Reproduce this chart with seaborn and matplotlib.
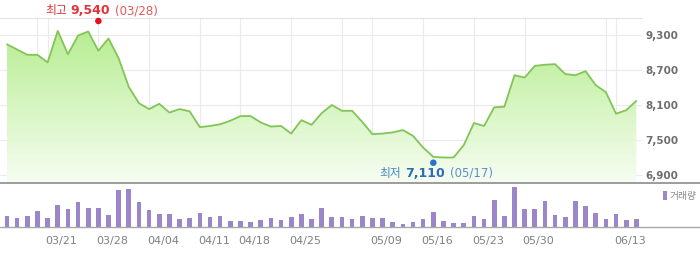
import numpy as np
import pandas as pd
import matplotlib
matplotlib.use('Agg')
import matplotlib.pyplot as plt
import seaborn as sns
from matplotlib.offsetbox import TextArea, HPacker, AnnotationBbox
from matplotlib.transforms import ScaledTranslation
from matplotlib.lines import Line2D
from matplotlib.colors import LinearSegmentedColormap

# ---------------- data ----------------
dates = ['03/15', '03/16', '03/17', '03/18', '03/21', '03/22', '03/23', '03/24', '03/25',
         '03/28', '03/29', '03/30', '03/31', '04/01', '04/04', '04/05', '04/06', '04/07',
         '04/08', '04/11', '04/12', '04/14', '04/15', '04/18', '04/19', '04/20', '04/21',
         '04/22', '04/25', '04/26', '04/27', '04/28', '04/29', '05/02', '05/03', '05/04',
         '05/09', '05/10', '05/11', '05/12', '05/13', '05/16', '05/17', '05/18', '05/19',
         '05/20', '05/23', '05/24', '05/25', '05/26', '05/27', '05/30', '05/31', '06/01',
         '06/02', '06/03', '06/07', '06/08', '06/09', '06/10', '06/13', '06/14', '06/15']
close = [9140, 9050, 8960, 8960, 8830, 9370, 8970, 9290, 9360, 9030,
         9240, 8900, 8410, 8130, 8030, 8120, 7970, 8030, 7990, 7720,
         7740, 7770, 7830, 7910, 7910, 7800, 7730, 7740, 7610, 7840,
         7760, 7960, 8100, 8000, 8000, 7810, 7600, 7610, 7630, 7670,
         7570, 7370, 7210, 7200, 7200, 7410, 7790, 7740, 8060, 8070,
         8610, 8570, 8770, 8790, 8800, 8630, 8610, 8680, 8440, 8320,
         7950, 8010, 8170]
volume = [320, 270, 330, 460, 270, 640, 520, 730, 570, 570,
          340, 1100, 1130, 750, 510, 390, 390, 240, 270, 410,
          290, 330, 180, 180, 140, 190, 250, 210, 300, 380,
          230, 560, 290, 280, 230, 320, 250, 250, 130, 80,
          150, 240, 430, 160, 110, 120, 320, 240, 790, 320,
          1190, 540, 520, 770, 360, 280, 780, 620, 420, 240,
          370, 210, 240]
grid_dates = ['03/18', '03/21', '03/28', '04/04', '04/11', '04/18', '04/25', '05/02',
              '05/09', '05/16', '05/23', '05/30', '06/10', '06/13']
labeled_dates = ['03/21', '03/28', '04/04', '04/11', '04/18', '04/25',
                 '05/09', '05/16', '05/23', '05/30', '06/13']
price_ticks = [6900, 7500, 8100, 8700, 9300]
high_date, high_value = '03/28', 9540
low_date, low_value = '05/17', 7110
volume_label = '거래량'

# ---------------- style ----------------
sns.set_style('white')
plt.rcParams['font.family'] = ['DejaVu Sans', 'Noto Sans CJK KR']

W, H = 700, 257
fig = plt.figure(figsize=(7, 2.57), dpi=100)


def px(l, t, r, b):
    return [l / W, 1 - b / H, (r - l) / W, (b - t) / H]


ax = fig.add_axes(px(0, 18.3, 642, 182.5))
axv = fig.add_axes(px(0, 183, 642, 226.7))

df = pd.DataFrame({'date': dates, 'close': close, 'volume': volume})
df['pos'] = np.arange(len(df))
pos_of = dict(zip(df['date'], df['pos']))

xmin, xmax = -0.69, 62.56
ymin, ymax = 6771, 9586

# ---- price panel ----
fill = ax.fill_between(df['pos'], df['close'], ymin, facecolor='none', edgecolor='none')
cmap = LinearSegmentedColormap.from_list('g', ['#b2ec8a', '#f6fdf1'])
grad = np.linspace(0, 1, 256).reshape(-1, 1)
img = ax.imshow(grad, cmap=cmap, aspect='auto', extent=[xmin, xmax, ymin, ymax],
                origin='upper', zorder=1)
img.set_clip_path(fill.get_paths()[0], transform=ax.transData)

sns.lineplot(data=df, x='pos', y='close', ax=ax, color='#82c556', lw=1.3, zorder=3)

ax.set_xlim(xmin, xmax)
ax.set_ylim(ymin, ymax)
ax.set_xticks([pos_of[d] for d in grid_dates])
ax.set_xticklabels([])
ax.set_yticks(price_ticks)
ax.set_yticklabels([f'{v:,}' for v in price_ticks], fontweight='bold')
ax.yaxis.tick_right()
ax.tick_params(axis='y', length=0, pad=2.5, labelsize=7.5, labelcolor='#6e6e6e')
ax.tick_params(axis='x', length=0)
ax.grid(True, color='#ebebeb', lw=0.8)
ax.set_axisbelow(True)
ax.set_xlabel('')
ax.set_ylabel('')
for s in ['left', 'right', 'bottom']:
    ax.spines[s].set_visible(False)
ax.spines['top'].set_color('#e3e3e3')
ax.spines['top'].set_linewidth(0.8)


def mark(xdate, yval, parts, dy, dotcolor):
    sns.scatterplot(x=[pos_of[xdate]], y=[yval], ax=ax, s=22, color=dotcolor,
                    edgecolor='none', zorder=6, clip_on=False)
    areas = [TextArea(t, textprops=p) for t, p in parts]
    box = HPacker(children=areas, align='baseline', pad=0, sep=3)
    ab = AnnotationBbox(box, (pos_of[xdate], yval), xybox=(2, dy), xycoords='data',
                        boxcoords='offset points', frameon=False, pad=0,
                        box_alignment=(0.5, 0.5), annotation_clip=False)
    ax.add_artist(ab)


mark(high_date, high_value,
     [('최고', dict(color='#e3323a', fontsize=8.5)),
      (f'{high_value:,}', dict(color='#e3323a', fontsize=9, fontweight='bold')),
      (f'({high_date})', dict(color='#e25a5a', fontsize=8.5))],
     7.5, '#e8101a')
mark(low_date, low_value,
     [('최저', dict(color='#4a86c8', fontsize=8.5)),
      (f'{low_value:,}', dict(color='#2d6db8', fontsize=9, fontweight='bold')),
      (f'({low_date})', dict(color='#5c90cc', fontsize=8.5))],
     -7.5, '#2a72c8')

# ---- volume panel ----
sns.barplot(data=df, x='pos', y='volume', ax=axv, width=0.46,
            color='#9b86c9', saturation=1, label=volume_label,
            linewidth=0, edgecolor='none')
axv.set_xlim(xmin, xmax)
axv.set_ylim(0, 1310)
axv.set_yticks([])
axv.set_xticks([pos_of[d] for d in grid_dates])
axv.set_xticklabels([d if d in labeled_dates else '' for d in grid_dates], ha='left')
axv.tick_params(axis='x', length=4, width=0.8, color='#b0b0b0', pad=3,
                labelsize=8, labelcolor='#808080')
offset = ScaledTranslation(-2 / 100, 0, fig.dpi_scale_trans)
for lab in axv.get_xticklabels():
    lab.set_transform(lab.get_transform() + offset)
axv.set_xlabel('')
axv.set_ylabel('')
for s in axv.spines.values():
    s.set_visible(False)
leg = axv.legend(loc='center left', bbox_to_anchor=(1.033, 0.70), frameon=False,
                 borderpad=0, borderaxespad=0, handlelength=0.35, handleheight=1.0,
                 handletextpad=0.3, fontsize=7)
for t in leg.get_texts():
    t.set_color('#888888')

# separator lines spanning full width
fig.add_artist(Line2D([0, 1], [1 - 182.5 / H] * 2, transform=fig.transFigure,
                      color='#9c9c9c', lw=1.4))
fig.add_artist(Line2D([0, 1], [1 - 226.9 / H] * 2, transform=fig.transFigure,
                      color='#a8a8a8', lw=1.0))

fig.savefig('out.png', dpi=100)
